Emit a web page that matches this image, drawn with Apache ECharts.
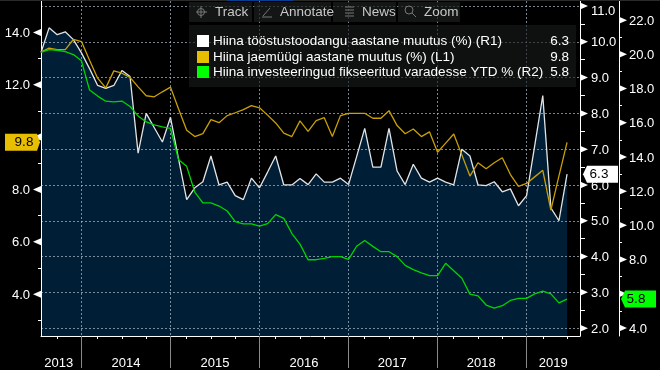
<!DOCTYPE html>
<html>
<head>
<meta charset="utf-8">
<style>
html,body{margin:0;padding:0;background:#000;}
#main{width:660px;height:370px;}
</style>
<script src="https://cdn.jsdelivr.net/npm/echarts@6/dist/echarts.min.js"></script>
</head>
<body>
<div id="main"></div>
<script>
// one point per release, no January print, so 11 points a year
var pointIndex = [];
for (var n = 0; n < 66; n++) pointIndex.push(n);

var industry = [9.70,10.39,10.20,10.28,10.06,9.69,9.25,8.78,8.70,8.78,9.20,9.03,6.89,8.00,7.60,7.20,7.89,6.72,5.59,5.92,6.09,6.81,6.00,6.08,5.70,5.59,6.19,5.92,6.36,6.81,6.00,6.00,6.18,6.01,6.31,6.08,6.08,6.19,6.01,6.79,7.58,6.50,6.50,7.58,6.39,6.01,6.58,6.19,6.08,6.19,6.08,6.00,7.00,6.81,6.00,5.98,6.09,5.81,5.89,5.42,5.70,7.09,8.50,5.36,5.00,6.30];
var retail = [13.25,13.40,13.34,13.34,13.73,13.65,12.94,12.25,11.88,12.53,12.44,12.28,11.92,11.58,11.54,11.73,11.91,11.07,10.26,10.02,10.13,10.67,10.55,10.82,10.93,11.05,11.20,11.12,10.84,10.54,10.15,10.02,10.62,10.22,10.63,10.74,10.02,10.82,10.91,10.91,10.91,10.72,10.72,11.01,10.44,10.13,10.31,10.02,10.20,9.42,9.77,10.12,9.32,8.51,9.02,8.79,9.02,9.21,8.57,8.12,8.23,8.48,8.73,7.21,8.52,9.80];
var fixedAssets = [20.12,20.28,20.24,20.16,19.99,19.62,17.91,17.56,17.26,17.22,17.27,16.95,16.40,16.05,15.88,15.76,15.67,13.83,13.45,11.95,11.31,11.31,11.13,10.84,10.22,10.09,10.09,9.95,10.10,10.63,10.41,9.52,8.90,7.99,7.99,8.07,8.17,8.17,8.01,8.78,9.12,8.77,8.46,8.46,8.17,7.66,7.41,7.22,7.06,7.06,7.78,7.35,6.91,5.98,5.88,5.34,5.16,5.30,5.61,5.73,5.73,5.99,6.15,5.99,5.47,5.69];

var legendNames = ['Hiina tööstustoodangu aastane muutus (%) (R1)','Hiina jaemüügi aastane muutus (%) (L1)','Hiina investeeringud fikseeritud varadesse YTD % (R2)'];
var legendValues = ['6.3','9.8','5.8'];
var toolButtons = ['Track','Annotate','News','Zoom'];

var yearLabels = ['2013','2014','2015','2016','2017','2018','2019'];
var yearLabelPos = [2.2,10.5,21.5,32.5,43.4,54.4,63.3];
var yearBounds = [5,16,27,38,49,60];
var quarterTicks = [2,7,10,13,18,21,24,29,32,35,40,43,46,51,54,57,62,65];

var leftMajor = [14,12,10,8,6,4];
var leftLabels = [14,12,8,6,4];
var leftMinor = [13,11,9,7,5,3];
var r1Major = [11,10,9,8,7,6,5,4,3,2];
var r1Minor = [10.5,9.5,8.5,7.5,6.5,5.5,4.5,3.5,2.5];
var r2Major = [22,20,18,16,14,12,10,8,6,4];
var r2Labels = [22,20,18,16,14,12,10,8,4];
var r2Minor = [21,19,17,15,13,11,9,7,5];

var WHITE = '#e2e4e6', GOLD = '#c9a006', GREEN = '#00d400', NAVY = '#001f36';
var GRID = 'rgba(175,190,205,0.7)';
var FONT = '"Liberation Sans", sans-serif';
var xMax = 66.6;

function yAxisFor(pos, min, max, minor, labels, offset, margin, tickLen){
	return {
		type:'value', position:pos, min:min, max:max, offset:offset, z:2,
		axisLine:{show:true, onZero:false, lineStyle:{color:'#fff', width:1}},
		axisTick:{show:true, length:tickLen, customValues:minor, lineStyle:{color:'#fff'}},
		axisLabel:{
			customValues:labels, margin:margin, color:'#fff', fontFamily:FONT, fontSize:13,
			hideOverlap:false, showMinLabel:true, showMaxLabel:true, padding:[2,0,0,0],
			// top label of R1 sits lower than its tick, the window cuts it otherwise
			formatter:function(v){ return v === 11 ? '{top|11.0}' : v.toFixed(1); },
			rich:{top:{color:'#fff', fontFamily:FONT, fontSize:13, padding:[8,0,0,0]}}
		},
		splitLine:{show:false}
	};
}

// little triangles that sit on the axes at the major ticks
function arrows(yIndex, ticks, x, rotate, dx){
	return {
		type:'line', xAxisIndex:0, yAxisIndex:yIndex, z:6, clip:false, silent:true,
		data:ticks.map(function(v){ return [x, v]; }),
		lineStyle:{width:0}, symbol:'triangle', symbolSize:[7,8], symbolRotate:rotate,
		symbolOffset:[dx,0], itemStyle:{color:'#fff'}, showSymbol:true
	};
}

function pairs(values){
	return pointIndex.map(function(i){ return [i, values[i]]; });
}

var option = {
	backgroundColor:'#000',
	animation:false,
	grid:{left:41, right:80, top:1, bottom:32},
	xAxis:[
		{
			type:'value', min:0, max:xMax, position:'bottom', z:2,
			axisLine:{show:true, onZero:false, lineStyle:{color:'#fff'}},
			axisTick:{show:true, length:3, customValues:quarterTicks, lineStyle:{color:'#fff'}},
			axisLabel:{
				customValues:yearLabelPos, margin:21, color:'#fff', fontFamily:FONT, fontSize:13,
				hideOverlap:false,
				formatter:function(v){ return yearLabels[yearLabelPos.indexOf(v)] || ''; }
			},
			splitLine:{show:false}
		},
		{
			type:'value', min:0, max:xMax, position:'bottom', z:2,
			axisLine:{show:false, onZero:false},
			axisTick:{show:true, length:32, customValues:yearBounds, lineStyle:{color:'#8a8a8a'}},
			axisLabel:{show:false},
			splitLine:{show:true, lineStyle:{type:[2,2], color:GRID}}
		}
	],
	yAxis:[
		yAxisFor('left', 2.4, 15.2, leftMinor, leftLabels, 0, 11, 3),
		yAxisFor('right', 1.78, 11.14, r1Minor, r1Major, 0, 11, 5),
		yAxisFor('right', 3.53, 23.12, r2Minor, r2Labels, 39, 10, 3),
		{
			type:'value', position:'right', min:1.78, max:11.14, z:2,
			axisLine:{show:false, onZero:false}, axisTick:{show:false, customValues:r1Major},
			axisLabel:{show:false},
			splitLine:{show:true, lineStyle:{type:[2,2], color:GRID}}
		}
	],
	series:[
		{
			type:'line', yAxisIndex:1, z:1, data:pairs(industry), symbol:'none',
			lineStyle:{width:0}, areaStyle:{color:NAVY, origin:'start', opacity:1}
		},
		{type:'line', yAxisIndex:1, z:3, data:pairs(industry), symbol:'none', lineStyle:{color:WHITE, width:1.3}},
		{type:'line', yAxisIndex:0, z:4, data:pairs(retail), symbol:'none', lineStyle:{color:GOLD, width:1.3}},
		{type:'line', yAxisIndex:2, z:5, data:pairs(fixedAssets), symbol:'none', lineStyle:{color:GREEN, width:1.3}},
		arrows(0, leftMajor, 0, 90, -4),
		arrows(1, r1Major, xMax, -90, 4),
		arrows(2, r2Major, xMax, -90, 43)
	]
};

var chart = echarts.init(document.getElementById('main'), null, {renderer:'canvas'});
chart.setOption(option);

// toolbar, legend box and the value tags on the axes
var marks = [];
function rect(x, y, w, h, fill){
	marks.push({type:'rect', z:100, silent:true, shape:{x:x, y:y, width:w, height:h}, style:{fill:fill}});
}
function text(x, y, str, fill, align, size, family){
	marks.push({type:'text', z:101, silent:true, x:x, y:y, style:{
		text:str, fill:fill, align:align, verticalAlign:'middle',
		font:(size || 13) + 'px ' + (family || FONT)
	}});
}
function stroke(type, shape){
	marks.push({type:type, z:101, silent:true, shape:shape, style:{stroke:'#777', fill:'none', lineWidth:1}});
}

rect(0, 0, 660, 1, '#2a2a2a');
rect(227, 0, 66, 1, '#0a3f8f');

var buttonX = [189, 254, 333, 398];
var buttonW = [63, 77, 63, 62];
var buttonText = [215, 280, 362, 424];
toolButtons.forEach(function(b, i){
	rect(buttonX[i], 2, buttonW[i], 20, 'rgba(28,30,30,0.72)');
	text(buttonText[i], 12, b, '#c8c8c8', 'left', 13.5);
});
// toolbar icons
stroke('circle', {cx:201, cy:12, r:3.5});
stroke('line', {x1:196, y1:12, x2:207, y2:12});
stroke('line', {x1:201, y1:6, x2:201, y2:18});
stroke('line', {x1:263, y1:16, x2:270, y2:8});
stroke('line', {x1:262, y1:17, x2:272, y2:17});
[7,10,13,16].forEach(function(y){ stroke('line', {x1:345, y1:y, x2:354, y2:y}); });
stroke('circle', {cx:409, cy:10, r:4});
stroke('line', {x1:412, y1:13, x2:416, y2:17});

rect(189, 25, 387, 62, 'rgba(24,28,28,0.62)');
var legendColors = ['#ffffff', '#e8bf00', '#00ff00'];
var legendY = [41, 57, 72];
legendNames.forEach(function(name, i){
	rect(197, legendY[i] - 6, 12, 12, legendColors[i]);
	text(213, legendY[i], name, '#fff', 'left', 13.5);
	text(569, legendY[i], legendValues[i], '#fff', 'right', 13.5);
});

function tag(points, fill, tx, ty, str, color){
	marks.push({type:'polygon', z:100, silent:true, shape:{points:points}, style:{fill:fill}});
	text(tx, ty, str, color, 'center', 13.5);
}
var tagL = chart.convertToPixel({yAxisIndex:0}, retail[65]);
var tagR1 = chart.convertToPixel({yAxisIndex:1}, industry[65]);
var tagR2 = chart.convertToPixel({yAxisIndex:2}, fixedAssets[65]);
tag([[5,tagL-8.5],[37,tagL-8.5],[40,tagL],[37,tagL+8.5],[5,tagL+8.5]], '#e8bf00', 24, tagL, legendValues[1], '#000');
tag([[583,tagR1],[587,tagR1-8.5],[618,tagR1-8.5],[618,tagR1+8.5],[587,tagR1+8.5]], '#fff', 599, tagR1, legendValues[0], '#000');
tag([[621,tagR2],[625,tagR2-8.5],[656,tagR2-8.5],[656,tagR2+8.5],[625,tagR2+8.5]], '#00ff00', 636, tagR2, legendValues[2], '#000');

chart.setOption({graphic:{elements:marks}});
</script>
</body>
</html>
